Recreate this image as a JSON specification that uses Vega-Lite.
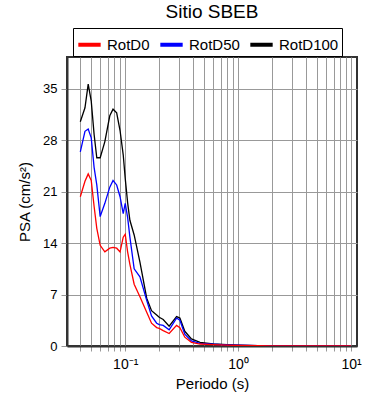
{
  "$schema": "https://vega.github.io/schema/vega-lite/v6.json",
  "autosize": {"type": "none"},
  "width": 290,
  "height": 289,
  "padding": {"left": 67, "top": 57, "right": 33, "bottom": 54},
  "background": "white",
  "config": {
    "font": "Liberation Sans",
    "view": {"stroke": "#333333", "strokeWidth": 2}
  },
  "title": {"text": "Sitio SBEB", "fontSize": 19, "fontWeight": "normal", "font": "Liberation Sans", "color": "black", "anchor": "middle", "offset": 6},
  "data": {"values": [
    {"T": 0.04, "s": "RotD100", "v": 30.5}, {"T": 0.044, "s": "RotD100", "v": 32.4}, {"T": 0.047, "s": "RotD100", "v": 35.6}, {"T": 0.05, "s": "RotD100", "v": 33.3}, {"T": 0.053, "s": "RotD100", "v": 28.8}, {"T": 0.056, "s": "RotD100", "v": 25.6}, {"T": 0.06, "s": "RotD100", "v": 25.6}, {"T": 0.066, "s": "RotD100", "v": 27.8}, {"T": 0.073, "s": "RotD100", "v": 31.3}, {"T": 0.078, "s": "RotD100", "v": 32.2}, {"T": 0.084, "s": "RotD100", "v": 31.7}, {"T": 0.09, "s": "RotD100", "v": 29.3}, {"T": 0.096, "s": "RotD100", "v": 26.0}, {"T": 0.1, "s": "RotD100", "v": 22.8}, {"T": 0.105, "s": "RotD100", "v": 19.5}, {"T": 0.11, "s": "RotD100", "v": 17.1}, {"T": 0.12, "s": "RotD100", "v": 15.1}, {"T": 0.135, "s": "RotD100", "v": 11.4}, {"T": 0.155, "s": "RotD100", "v": 6.5}, {"T": 0.171, "s": "RotD100", "v": 4.8}, {"T": 0.19, "s": "RotD100", "v": 4.2}, {"T": 0.2, "s": "RotD100", "v": 3.9}, {"T": 0.217, "s": "RotD100", "v": 3.6}, {"T": 0.245, "s": "RotD100", "v": 2.7}, {"T": 0.285, "s": "RotD100", "v": 4.0}, {"T": 0.305, "s": "RotD100", "v": 3.8}, {"T": 0.337, "s": "RotD100", "v": 2.0}, {"T": 0.386, "s": "RotD100", "v": 0.96}, {"T": 0.46, "s": "RotD100", "v": 0.5}, {"T": 0.6, "s": "RotD100", "v": 0.3}, {"T": 0.8, "s": "RotD100", "v": 0.18}, {"T": 1.0, "s": "RotD100", "v": 0.12}, {"T": 1.5, "s": "RotD100", "v": 0.06}, {"T": 2, "s": "RotD100", "v": 0.04}, {"T": 3, "s": "RotD100", "v": 0.02}, {"T": 5, "s": "RotD100", "v": 0.01}, {"T": 7, "s": "RotD100", "v": 0.007}, {"T": 10, "s": "RotD100", "v": 0.005},
    {"T": 0.04, "s": "RotD50", "v": 26.4}, {"T": 0.044, "s": "RotD50", "v": 29.2}, {"T": 0.047, "s": "RotD50", "v": 29.5}, {"T": 0.05, "s": "RotD50", "v": 28.3}, {"T": 0.053, "s": "RotD50", "v": 24.3}, {"T": 0.056, "s": "RotD50", "v": 21.9}, {"T": 0.06, "s": "RotD50", "v": 17.6}, {"T": 0.066, "s": "RotD50", "v": 19.4}, {"T": 0.073, "s": "RotD50", "v": 21.6}, {"T": 0.078, "s": "RotD50", "v": 22.5}, {"T": 0.084, "s": "RotD50", "v": 21.9}, {"T": 0.09, "s": "RotD50", "v": 20.3}, {"T": 0.096, "s": "RotD50", "v": 18.0}, {"T": 0.1, "s": "RotD50", "v": 19.4}, {"T": 0.105, "s": "RotD50", "v": 17.5}, {"T": 0.11, "s": "RotD50", "v": 14.8}, {"T": 0.12, "s": "RotD50", "v": 10.5}, {"T": 0.135, "s": "RotD50", "v": 9.4}, {"T": 0.155, "s": "RotD50", "v": 6.2}, {"T": 0.171, "s": "RotD50", "v": 4.1}, {"T": 0.19, "s": "RotD50", "v": 3.1}, {"T": 0.2, "s": "RotD50", "v": 2.9}, {"T": 0.217, "s": "RotD50", "v": 2.8}, {"T": 0.245, "s": "RotD50", "v": 2.2}, {"T": 0.285, "s": "RotD50", "v": 3.8}, {"T": 0.305, "s": "RotD50", "v": 3.5}, {"T": 0.337, "s": "RotD50", "v": 1.6}, {"T": 0.386, "s": "RotD50", "v": 0.7}, {"T": 0.46, "s": "RotD50", "v": 0.36}, {"T": 0.6, "s": "RotD50", "v": 0.24}, {"T": 0.8, "s": "RotD50", "v": 0.15}, {"T": 1.0, "s": "RotD50", "v": 0.1}, {"T": 1.5, "s": "RotD50", "v": 0.05}, {"T": 2, "s": "RotD50", "v": 0.03}, {"T": 3, "s": "RotD50", "v": 0.016}, {"T": 5, "s": "RotD50", "v": 0.008}, {"T": 7, "s": "RotD50", "v": 0.006}, {"T": 10, "s": "RotD50", "v": 0.004},
    {"T": 0.04, "s": "RotD0", "v": 20.3}, {"T": 0.044, "s": "RotD0", "v": 22.4}, {"T": 0.047, "s": "RotD0", "v": 23.4}, {"T": 0.05, "s": "RotD0", "v": 22.5}, {"T": 0.053, "s": "RotD0", "v": 19.0}, {"T": 0.056, "s": "RotD0", "v": 16.0}, {"T": 0.06, "s": "RotD0", "v": 13.7}, {"T": 0.066, "s": "RotD0", "v": 12.8}, {"T": 0.073, "s": "RotD0", "v": 13.3}, {"T": 0.078, "s": "RotD0", "v": 13.4}, {"T": 0.084, "s": "RotD0", "v": 13.3}, {"T": 0.09, "s": "RotD0", "v": 12.8}, {"T": 0.096, "s": "RotD0", "v": 14.8}, {"T": 0.1, "s": "RotD0", "v": 15.2}, {"T": 0.105, "s": "RotD0", "v": 12.8}, {"T": 0.11, "s": "RotD0", "v": 11.1}, {"T": 0.12, "s": "RotD0", "v": 8.4}, {"T": 0.135, "s": "RotD0", "v": 6.7}, {"T": 0.155, "s": "RotD0", "v": 4.6}, {"T": 0.171, "s": "RotD0", "v": 3.1}, {"T": 0.19, "s": "RotD0", "v": 2.5}, {"T": 0.2, "s": "RotD0", "v": 2.4}, {"T": 0.217, "s": "RotD0", "v": 2.1}, {"T": 0.245, "s": "RotD0", "v": 1.7}, {"T": 0.285, "s": "RotD0", "v": 2.8}, {"T": 0.305, "s": "RotD0", "v": 2.5}, {"T": 0.337, "s": "RotD0", "v": 1.2}, {"T": 0.386, "s": "RotD0", "v": 0.5}, {"T": 0.46, "s": "RotD0", "v": 0.27}, {"T": 0.6, "s": "RotD0", "v": 0.18}, {"T": 0.8, "s": "RotD0", "v": 0.11}, {"T": 1.0, "s": "RotD0", "v": 0.07}, {"T": 1.5, "s": "RotD0", "v": 0.04}, {"T": 2, "s": "RotD0", "v": 0.025}, {"T": 3, "s": "RotD0", "v": 0.012}, {"T": 5, "s": "RotD0", "v": 0.006}, {"T": 7, "s": "RotD0", "v": 0.004}, {"T": 10, "s": "RotD0", "v": 0.003}
  ]},
  "mark": {"type": "line", "strokeWidth": 1.3, "clip": true},
  "encoding": {
    "x": {
      "field": "T", "type": "quantitative",
      "scale": {"type": "log", "domain": [0.0305, 11.3], "nice": false},
      "axis": {
        "title": "Periodo (s)", "titleFontSize": 15, "titleFontWeight": "normal", "titleColor": "black", "titlePadding": 5,
        "values": [0.04, 0.05, 0.06, 0.07, 0.08, 0.09, 0.1, 0.2, 0.3, 0.4, 0.5, 0.6, 0.7, 0.8, 0.9, 1, 2, 3, 4, 5, 6, 7, 8, 9, 10],
        "labelExpr": "datum.value == 0.1 ? '10⁻¹' : datum.value == 1 ? '10⁰' : datum.value == 10 ? '10¹' : ''",
        "labelFontSize": 14, "labelColor": "black", "labelPadding": 6,
        "grid": true, "gridColor": "#999999", "gridWidth": 1, "gridOpacity": 1,
        "domain": true, "domainColor": "#333333", "domainWidth": 2,
        "ticks": true, "tickColor": "#999999", "tickSize": 5
      }
    },
    "y": {
      "field": "v", "type": "quantitative",
      "scale": {"domain": [0, 39.3], "nice": false},
      "axis": {
        "title": "PSA (cm/s²)", "titleFontSize": 15, "titleFontWeight": "normal", "titleColor": "black", "titlePadding": 10,
        "values": [0, 7, 14, 21, 28, 35],
        "labelFontSize": 13, "labelColor": "black", "labelPadding": 4,
        "grid": true, "gridColor": "#999999", "gridWidth": 1, "gridOpacity": 1,
        "domain": true, "domainColor": "#333333", "domainWidth": 2,
        "ticks": true, "tickColor": "#999999", "tickSize": 6
      }
    },
    "color": {
      "field": "s", "type": "nominal",
      "scale": {"domain": ["RotD0", "RotD50", "RotD100"], "range": ["#ff0000", "#0000ff", "#000000"]},
      "legend": {
        "title": null, "orient": "none", "legendX": 6, "legendY": -29, "direction": "horizontal",
        "symbolType": "stroke", "symbolStrokeWidth": 4, "symbolSize": 500,
        "labelFontSize": 15, "labelColor": "black", "labelFont": "Liberation Sans", "labelOffset": 4,
        "strokeColor": "black", "padding": 3, "columnPadding": 2
      }
    },
    "order": {"field": "s", "sort": "ascending"}
  }
}
